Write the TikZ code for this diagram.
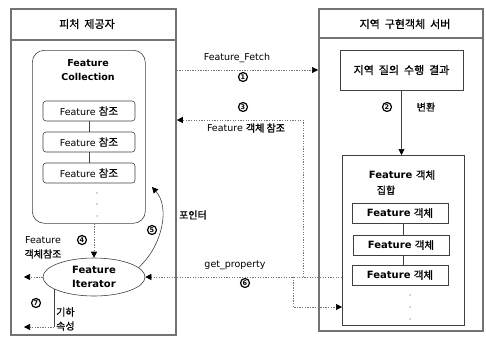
\documentclass[tikz,border=0pt]{standalone}
\usepackage{fontspec}
\setmainfont{DejaVu Sans}
\newfontfamily\kr{Noto Sans CJK KR}[FakeBold=0.8]
\newfontfamily\krb{Noto Sans CJK KR}[FakeBold=1.6]
\usetikzlibrary{arrows.meta,shapes.geometric,calc}

\begin{document}
\begin{tikzpicture}[x=1pt,y=-1pt,
  frame/.style={draw=black!55, line width=1.8pt},
  box/.style={draw=black!75, line width=0.6pt},
  refbox/.style={box, rounded corners=3pt, minimum width=92pt, minimum height=20pt,
    inner sep=0pt, font=\fontsize{9.5}{11}\selectfont},
  objbox/.style={box, minimum width=96pt, minimum height=20pt,
    inner sep=0pt, font=\fontsize{10}{12}\selectfont},
  conn/.style={draw=black!55, dash pattern=on 1.3pt off 1.3pt, line width=0.6pt},
  solidline/.style={draw=black!75, line width=0.6pt},
  tip/.style={-{Triangle[length=6pt,width=6pt,color=black]}},
  num/.style={circle, draw, line width=1.2pt, inner sep=0pt, minimum size=9pt,
    font=\fontsize{6.5}{7}\selectfont\bfseries},
  lbl/.style={font=\fontsize{9.5}{11}\selectfont, inner sep=0pt},
  krlbl/.style={font=\kr\fontsize{10}{12}\selectfont, inner sep=0pt},
  dot/.style={fill=black!70, circle, inner sep=0pt, minimum size=1.4pt}
]
\useasboundingbox (0,0) rectangle (486,337);

% ---- feature provider panel ----
\node[frame, anchor=north west, minimum width=165pt, minimum height=326pt, inner sep=0pt] (lp) at (10,8) {};
\draw[frame] (10,40) -- (175,40);
\node[font=\kr\fontsize{11}{13}\selectfont] (lpt) at (87,24) {피처\ \ 제공자};

\node[box, rounded corners=12pt, anchor=north west, minimum width=113pt, minimum height=173pt, inner sep=0pt] (fc) at (32,50) {};
\node[align=center, font=\fontsize{9.5}{13.5}\selectfont\bfseries] (fct) at (88,70) {Feature\\Collection};

\node[refbox] (r1) at (89,111) {Feature {\kr\fontsize{10.5}{11}\selectfont 참조}};
\node[refbox] (r2) at (89,142) {Feature {\kr\fontsize{10.5}{11}\selectfont 참조}};
\node[refbox] (r3) at (89,173) {Feature {\kr\fontsize{10.5}{11}\selectfont 참조}};
\draw[solidline] (r1.south) -- (r2.north);
\draw[solidline] (r2.south) -- (r3.north);
\node[dot] (d1) at (97,193) {};
\node[dot] (d2) at (97,204) {};
\node[dot] (d3) at (97,216) {};

\node[box, ellipse, minimum width=102pt, minimum height=38pt, inner sep=0pt, align=center,
  font=\fontsize{10}{14}\selectfont\bfseries] (it) at (94,277) {Feature\\Iterator};

\draw[conn, tip] (fc.south -| it.north) -- (it.north);
\node[lbl] (l4a) at (43,240) {Feature};
\node[krlbl] (l4b) at (43,254) {객체참조};
\node[num] (n4) at (82,240) {4};

% results handed out by the iterator
\coordinate (o1) at (24,277);
\coordinate (o2) at (24,327);
\draw[conn, tip] (it.west) -- (o1);
\draw[solidline] (it.197) -- (it.197 |- o2);
\draw[conn, tip] (it.197 |- o2) -- (o2);
\node[num] (n7) at (36,303) {7};
\node[krlbl, anchor=west] (l7a) at (56,312) {기하};
\node[krlbl, anchor=west] (l7b) at (56,326) {속성};

% pointer back into the collection
\coordinate (pe) at (152,187);
\draw[solidline, tip] (it.12) .. controls (163,245) and (170,207) .. (pe);
\node[num] (n5) at (152,230) {5};
\node[krlbl] (l5) at (193,215) {포인터};

% ---- local implementation object server panel ----
\node[frame, anchor=north west, minimum width=164pt, minimum height=322pt, inner sep=0pt] (rp) at (318,8) {};
\draw[frame] (318,38) -- (482,38);
\node[font=\kr\fontsize{11}{13}\selectfont] (rpt) at (405,24) {지역\ \ 구현객체\ \ 서버};

\node[box, minimum width=123pt, minimum height=40pt, inner sep=0pt,
  font=\kr\fontsize{11}{13}\selectfont] (qr) at (401.5,70) {지역\ \ 질의\ \ 수행\ \ 결과};

\node[box, anchor=north west, minimum width=122pt, minimum height=170pt, inner sep=0pt] (fs) at (342,155) {};
\draw[solidline, tip] (qr.south) -- (qr.south |- fs.north);
\node[num] (n2) at (387,107) {2};
\node[krlbl] (l2) at (426,107) {변환};

\node[font=\fontsize{10}{12}\selectfont\bfseries, inner sep=0pt] (fst) at (402,175) {Feature {\mdseries\kr\fontsize{10.5}{12}\selectfont 객체}};
\node[krlbl] (fst2) at (386,190) {집합};

\node[objbox] (f1) at (400,213) {\textbf{Feature} {\kr\fontsize{10.5}{12}\selectfont 객체}};
\node[objbox] (f2) at (401,245) {\textbf{Feature} {\kr\fontsize{10.5}{12}\selectfont 객체}};
\node[objbox] (f3) at (400,275) {\textbf{Feature} {\kr\fontsize{10.5}{12}\selectfont 객체}};
\draw[solidline] (f1.south -| 403,0) -- (f2.north -| 403,0);
\draw[solidline] (f2.south -| 403,0) -- (f3.north -| 403,0);
\node[dot] (e1) at (410,295) {};
\node[dot] (e2) at (410,307) {};
\node[dot] (e3) at (410,319) {};

% ---- messages between the two panels ----
\draw[conn, tip] (lp.east |- 0,70) -- (rp.west |- 0,70);
\node[lbl] (lf) at (237,58) {Feature\_Fetch};
\node[num] (n1) at (243,77) {1};

\coordinate (j1) at (303,277);
\coordinate (j2) at (293,277);
\draw[conn, tip] (j1) |- (lp.east |- 0,120);
\node[lbl] (lr) at (246,128) {Feature {\krb\fontsize{10}{11}\selectfont 객체\ 참조}};
\node[num] (n3) at (243,107) {3};

\draw[conn, tip] (fs.west |- it.east) -- (it.east);
\node[lbl] (lg) at (235,265) {get\_property};
\node[num] (n6) at (245,283) {6};
\draw[conn, tip] (j2) |- (fs.west |- 0,307);
\end{tikzpicture}
\end{document}
